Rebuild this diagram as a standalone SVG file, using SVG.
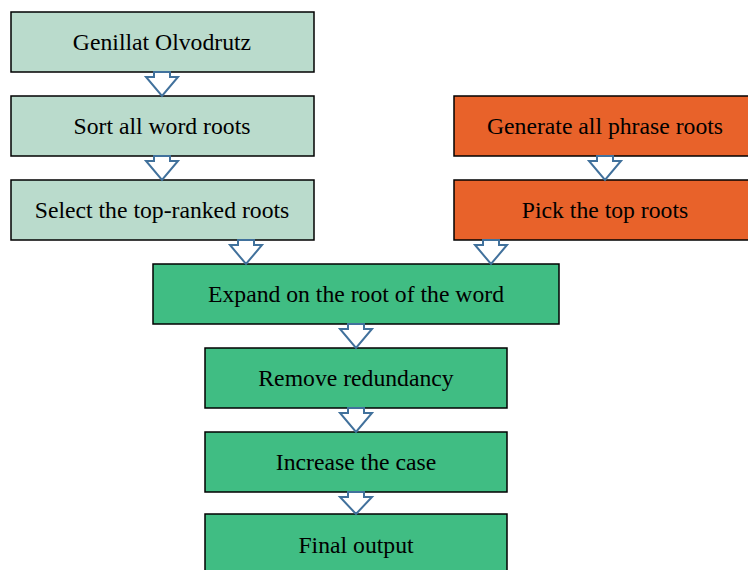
<svg xmlns="http://www.w3.org/2000/svg" width="748" height="570" viewBox="0 0 748 570">
<style>
.b{stroke:#000;stroke-width:1.5}
.l{fill:#BADBCC}
.o{fill:#E8622A}
.g{fill:#40BD83}
text{font-family:"Liberation Serif","Times New Roman",serif;font-size:23.7px;fill:#000;text-anchor:middle;dominant-baseline:central}
.a{fill:#fff;stroke:#41719C;stroke-width:2;stroke-linejoin:miter}
</style>
<defs>
<path id="arr" d="M-8,0 L8,0 L8,5 L16,5 L0,24 L-16,5 L-8,5 Z"/>
</defs>
<rect width="748" height="570" fill="#fff"/>
<g id="n1"><rect class="b l" x="11" y="12" width="303" height="60"/><text x="162" y="42">Genillat Olvodrutz</text></g>
<g id="n2"><rect class="b l" x="11" y="96" width="303" height="60"/><text x="162" y="126">Sort all word roots</text></g>
<g id="n3"><rect class="b l" x="11" y="180" width="303" height="60"/><text x="162" y="210">Select the top-ranked roots</text></g>
<g id="n4"><rect class="b o" x="454" y="96" width="300" height="60"/><text x="605" y="126">Generate all phrase roots</text></g>
<g id="n5"><rect class="b o" x="454" y="180" width="300" height="60"/><text x="605" y="210">Pick the top roots</text></g>
<g id="n6"><rect class="b g" x="153" y="264" width="406" height="60"/><text x="356" y="294">Expand on the root of the word</text></g>
<g id="n7"><rect class="b g" x="205" y="348" width="302" height="60"/><text x="356" y="378">Remove redundancy</text></g>
<g id="n8"><rect class="b g" x="205" y="432" width="302" height="60"/><text x="356" y="462">Increase the case</text></g>
<g id="n9"><rect class="b g" x="205" y="514" width="302" height="70"/><text x="356" y="545">Final output</text></g>
<g id="connectors">
<use href="#arr" class="a" x="162" y="72"/>
<use href="#arr" class="a" x="162" y="156"/>
<use href="#arr" class="a" x="246" y="240"/>
<use href="#arr" class="a" x="605" y="156"/>
<use href="#arr" class="a" x="491" y="240"/>
<use href="#arr" class="a" x="356" y="324"/>
<use href="#arr" class="a" x="356" y="408"/>
<path class="a" d="M348,492 L364,492 L364,497 L372,497 L356,514 L340,497 L348,497 Z"/>
</g>
</svg>
